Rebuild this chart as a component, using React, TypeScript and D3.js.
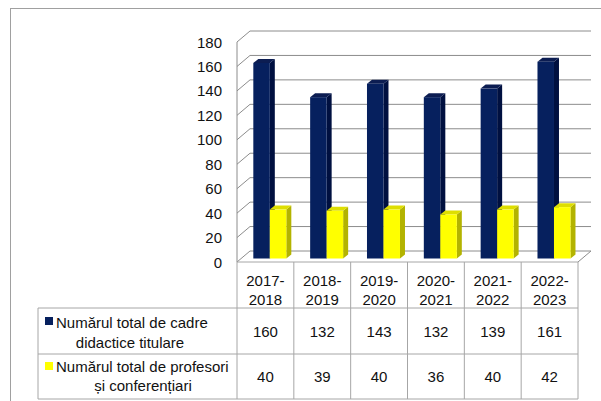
import React from 'react';
import { scaleBand, scaleLinear, range } from 'd3';

const years = ['2017-2018', '2018-2019', '2019-2020', '2020-2021', '2021-2022', '2022-2023'];
const cadre = [160, 132, 143, 132, 139, 161];
const profesori = [40, 39, 40, 36, 40, 42];
const yTicks = [0, 20, 40, 60, 80, 100, 120, 140, 160, 180];
const seriesNames = [
  ['Numărul total de cadre', 'didactice titulare'],
  ['Numărul total de profesori', 'și conferențiari'],
];

const font = 'Liberation Sans, Arial, sans-serif';
const fontSize = 15;

// front plane of the plot
const left = 237;
const right = 578;
const floorY = 262;
const topY = 42;
// wall depth offset
const wallDx = 13;
const wallDy = -11;
// bar plane offset and bar depth
const barDx = 4.4;
const barDy = -3.5;
const depthX = 5;
const depthY = -4;
const barWidth = 16.5;

const rowTop = [262, 308, 354];
const tableBottom = 399;
const legendLeft = 38;

const colors = [
  { front: '#06205e', side: '#001040', top: '#0c1d52' },
  { front: '#ffff00', side: '#b3b300', top: '#dede00' },
];

const x = scaleBand<string>().domain(years).range([left, right]);
const y = scaleLinear().domain([0, 180]).range([floorY, topY]);

const Bar = ({ x0, v, c }: { x0: number; v: number; c: typeof colors[0] }) => {
  const xf = x0 + barDx;
  const yb = y(0) + barDy;
  const yt = y(v) + barDy;
  const xr = xf + barWidth;
  return (
    <g>
      <path
        d={`M${xr},${yt} L${xr + depthX},${yt + depthY} L${xr + depthX},${yb + depthY} L${xr},${yb} Z`}
        fill={c.side}
      />
      <path
        d={`M${xf},${yt} L${xf + depthX},${yt + depthY} L${xr + depthX},${yt + depthY} L${xr},${yt} Z`}
        fill={c.top}
      />
      <rect x={xf} y={yt} width={barWidth} height={yb - yt} fill={c.front} />
    </g>
  );
};

const App = () => {
  const bw = x.bandwidth();
  const lineColor = '#8c8c8c';
  const tableColor = '#a6a6a6';
  return (
    <svg
      width={601}
      height={401}
      style={{ position: 'absolute', left: 0, top: 0, background: '#fff' }}
      fontFamily={font}
      fontSize={fontSize}
    >
      <rect x={10.5} y={8.5} width={600} height={400} fill="#fff" stroke="#a0a0a0" />

      {/* walls and gridlines */}
      {yTicks.map(t => (
        <g key={t}>
          <line
            x1={left + wallDx}
            x2={right + wallDx}
            y1={y(t) + wallDy}
            y2={y(t) + wallDy}
            stroke={lineColor}
          />
          <line x1={left} y1={y(t)} x2={left + wallDx} y2={y(t) + wallDy} stroke={lineColor} />
          <text x={222} y={y(t)} textAnchor="end" dominantBaseline="central" fill="#111">
            {t}
          </text>
        </g>
      ))}
      <line x1={left} x2={left} y1={topY} y2={floorY} stroke={lineColor} />
      <line x1={right} y1={floorY} x2={right + wallDx} y2={floorY + wallDy} stroke={lineColor} />

      {/* bars */}
      {years.map((yr, i) => {
        const x0 = x(yr)!;
        const start = x0 + bw / 2 - barWidth;
        return (
          <g key={yr}>
            <Bar x0={start} v={cadre[i]} c={colors[0]} />
            <Bar x0={start + barWidth} v={profesori[i]} c={colors[1]} />
          </g>
        );
      })}

      {/* data table */}
      <line x1={left} x2={right} y1={rowTop[0]} y2={rowTop[0]} stroke={tableColor} />
      {rowTop.slice(1).concat([tableBottom]).map(r => (
        <line key={r} x1={legendLeft} x2={right} y1={r} y2={r} stroke={tableColor} />
      ))}
      <line x1={legendLeft} x2={legendLeft} y1={rowTop[1]} y2={tableBottom} stroke={tableColor} />
      {range(years.length + 1).map(k => {
        const xx = left + k * bw;
        return <line key={k} x1={xx} x2={xx} y1={rowTop[0]} y2={tableBottom} stroke={tableColor} />;
      })}

      {years.map((yr, i) => {
        const cx = x(yr)! + bw / 2;
        const [a, b] = yr.split('-');
        return (
          <g key={yr} textAnchor="middle" fill="#111">
            <text x={cx} y={285.5}>{a + '-'}</text>
            <text x={cx} y={304.5}>{b}</text>
            <text x={cx} y={337}>{cadre[i]}</text>
            <text x={cx} y={382}>{profesori[i]}</text>
          </g>
        );
      })}

      {/* legend column */}
      <rect x={45} y={317} width={8} height={8} fill={colors[0].front} />
      <text x={56} y={327.5} fill="#111">{seriesNames[0][0]}</text>
      <text x={130} y={347.5} textAnchor="middle" fill="#111">{seriesNames[0][1]}</text>
      <rect x={45} y={362} width={8} height={8} fill={colors[1].front} />
      <text x={56} y={372} fill="#111">{seriesNames[1][0]}</text>
      <text x={143} y={390.5} textAnchor="middle" fill="#111">{seriesNames[1][1]}</text>
    </svg>
  );
};

export default App;
